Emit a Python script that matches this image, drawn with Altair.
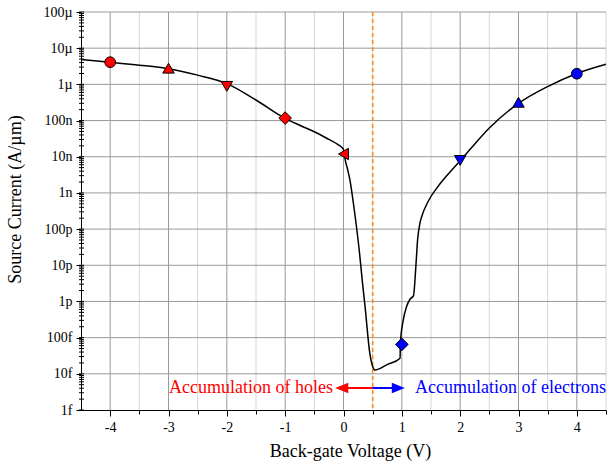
import json
import altair as alt
import pandas as pd

# ---- data ----
curve_x = [-4.5, -4.0, -3.5, -3.0, -2.5, -2.0, -1.5, -1.0, -0.75, -0.5, -0.25, -0.1,
           0.0, 0.03, 0.07, 0.11, 0.17, 0.23, 0.27, 0.32, 0.37, 0.45, 0.50, 0.54,
           0.75, 0.97, 0.975, 1.025, 1.08, 1.14, 1.2, 1.24, 1.27, 1.31, 1.34, 1.45,
           1.62, 1.8, 2.0, 2.17, 2.5, 3.0, 3.5, 4.0, 4.5]
curve_i = [4.9e-6, 4.1e-6, 3.4e-6, 2.7e-6, 1.8e-6, 1.05e-6, 3.7e-7, 1.15e-7, 7.4e-8, 4.9e-8, 3.0e-8, 2.2e-8,
           1.6e-8, 8.1e-9, 4.5e-9, 2.3e-9, 5.1e-10, 9.3e-11, 2.6e-11, 4.0e-12, 7.1e-13, 3.8e-14, 1.6e-14, 1.27e-14,
           1.8e-14, 2.7e-14, 7.1e-14, 3.1e-13, 7.1e-13, 1.15e-12, 1.45e-12, 9.1e-12, 5.0e-11, 1.45e-10, 2.2e-10, 5.8e-10,
           1.5e-9, 3.4e-9, 7.8e-9, 1.6e-8, 6.2e-8, 3.0e-7, 8.7e-7, 2.0e-6, 3.6e-6]

marker_x = [-4, -3, -2, -1, 0, 1, 2, 3, 4]
marker_i = [4.1e-6, 2.8e-6, 8.8e-7, 1.17e-7, 1.19e-8, 6.5e-14, 7.9e-9, 3.2e-7, 1.97e-6]
marker_shape = ["circle", "triangle-up", "triangle-down", "diamond", "triangle-left",
                "diamond", "triangle-down", "triangle-up", "circle"]
marker_color = ["#FF0000"] * 5 + ["#0000FF"] * 4
marker_size = [115, 130, 130, 160, 130, 160, 130, 130, 115]

y_tick_values = [1e-15, 1e-14, 1e-13, 1e-12, 1e-11, 1e-10, 1e-9, 1e-8, 1e-7, 1e-6, 1e-5, 1e-4]
y_tick_labels = ["1f", "10f", "100f", "1p", "10p", "100p", "1n", "10n", "100n", "1µ", "10µ", "100µ"]
x_major = [-4, -3, -2, -1, 0, 1, 2, 3, 4]
x_minor = [-3.5, -2.5, -1.5, -0.5, 0.5, 1.5, 2.5, 3.5, 4.5]
x_tick_labels = ["-4", "-3", "-2", "-1", "0", "1", "2", "3", "4"]

divider_x = [0.5]
arrow_y = 4.05e-15
annot_text = ["Accumulation of holes", "Accumulation of electrons"]
annot_x = [-0.18, 1.225]

FONT = "Liberation Serif"

xs = alt.Scale(domain=[-4.5, 4.5], nice=False, zero=False)
ys = alt.Scale(type="log", domain=[1e-15, 1e-4], nice=False)

minor_y = [m * v for v in y_tick_values[:-1] for m in range(1, 10)] + [1e-4]

x_label_expr = ("datum.value % 1 == 0 ? " + json.dumps(x_tick_labels) +
                "[round(datum.value) + 4] : ''")
y_label_expr = json.dumps(y_tick_labels, ensure_ascii=False) + "[round(log(datum.value) / LN10) + 15]"

COMMON = dict(labelFont=FONT, titleFont=FONT, labelFontSize=14, titleFontSize=18,
              titleFontWeight="normal", labelColor="black", titleColor="black",
              domainColor="black", tickColor="black", domainWidth=1, tickWidth=1, grid=False)

X_AXIS = alt.Axis(
    values=x_major + x_minor, labelExpr=x_label_expr, title="Back-gate Voltage (V)",
    tickSize={"condition": {"test": "datum.value % 1 == 0", "value": 6}, "value": 4},
    labelPadding=4, titleX=269, titleY=46, titleBaseline="alphabetic", titleAlign="center",
    **COMMON)
Y_AXIS = alt.Axis(
    values=y_tick_values, labelExpr=y_label_expr, title="Source Current (A/µm)",
    tickSize=5, labelPadding=4, titleX=-66, titleY=187,
    titleBaseline="middle", titleAlign="center", titleAngle=-90, **COMMON)


def X(field):
    return alt.X(field, scale=xs, axis=X_AXIS)


def Y(field):
    return alt.Y(field, scale=ys, axis=Y_AXIS)


curve_df = pd.DataFrame({"x": curve_x, "i": curve_i})
marker_df = pd.DataFrame({"x": marker_x, "i": marker_i, "shape": marker_shape,
                          "color": marker_color, "size": marker_size})

# grid layers
vminor = alt.Chart(pd.DataFrame({"x": x_minor})).mark_rule(color="#d6d6d6", strokeWidth=1).encode(
    x=X("x:Q"))
vmajor = alt.Chart(pd.DataFrame({"x": x_major})).mark_rule(color="#9a9a9a", strokeWidth=1).encode(
    x=X("x:Q"))
hgrid = alt.Chart(pd.DataFrame({"i": y_tick_values[1:]})).mark_rule(color="#9a9a9a", strokeWidth=1).encode(
    y=Y("i:Q"))
yminor = alt.Chart(pd.DataFrame({"i": minor_y})).mark_rule(color="black", strokeWidth=1).encode(
    y=Y("i:Q"), x=alt.value(-2), x2=alt.value(3))

divider = alt.Chart(pd.DataFrame({"x": divider_x})).mark_rule(
    color="#FF8C1A", strokeDash=[4, 3], strokeWidth=1.6).encode(x=X("x:Q"))

curve = alt.Chart(curve_df).mark_line(color="black", strokeWidth=1.5, interpolate="monotone").encode(
    x=X("x:Q"), y=Y("i:Q"))

markers = alt.Chart(marker_df).mark_point(filled=True, opacity=1, stroke="black", strokeWidth=1,
                                          strokeOpacity=1).encode(
    x=X("x:Q"), y=Y("i:Q"),
    shape=alt.Shape("shape:N", scale=None),
    fill=alt.Fill("color:N", scale=None),
    size=alt.Size("size:Q", scale=None),
)

arrow_df = pd.DataFrame({"x": [0.5, 0.5], "x2": [-0.03, 0.94], "i": [arrow_y, arrow_y],
                         "color": ["#FF0000", "#0000FF"],
                         "shape": ["M-1,0L1,-0.8L1,0.8Z", "M1,0L-1,-0.8L-1,0.8Z"]})
arrow_lines = alt.Chart(arrow_df).mark_rule(strokeWidth=2).encode(
    x=X("x:Q"), x2="x2:Q", y=Y("i:Q"), color=alt.Color("color:N", scale=None))
arrow_heads = alt.Chart(arrow_df).mark_point(filled=True, opacity=1, strokeWidth=0).encode(
    x=X("x2:Q"), y=Y("i:Q"),
    shape=alt.Shape("shape:N", scale=None),
    fill=alt.Fill("color:N", scale=None),
    size=alt.value(169))

text_df = pd.DataFrame({"x": annot_x, "i": [arrow_y, arrow_y], "t": annot_text})
text_left = alt.Chart(text_df.iloc[[0]]).mark_text(align="right", baseline="middle", font=FONT,
                                                   fontSize=18, color="#FF0000").encode(
    x=X("x:Q"), y=Y("i:Q"), text="t:N")
text_right = alt.Chart(text_df.iloc[[1]]).mark_text(align="left", baseline="middle", font=FONT,
                                                    fontSize=18, color="#0000FF").encode(
    x=X("x:Q"), y=Y("i:Q"), text="t:N")

chart = alt.layer(vminor, vmajor, hgrid, divider, curve, yminor, arrow_lines, arrow_heads,
                  markers, text_left, text_right).properties(
    width=525, height=398,
    autosize=alt.AutoSizeParams(type="none"),
    padding={"left": 81, "top": 12, "right": 1, "bottom": 54},
    background="white",
).configure_view(stroke=None)

chart.save("out.html", embed_options={"renderer": "svg", "actions": False})
